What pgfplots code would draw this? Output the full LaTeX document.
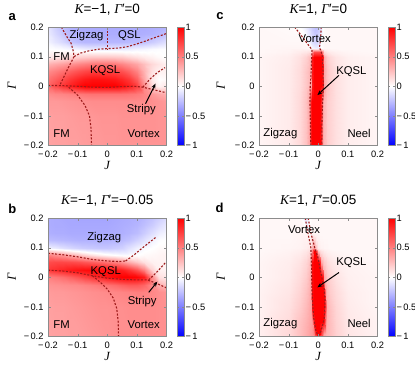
\documentclass[border=0pt]{standalone}
\usepackage{fontspec}
\setmainfont{Liberation Sans}
\newfontfamily\tms{Liberation Serif}
\usepackage{pgfplots}
\pgfplotsset{compat=1.18}
\usetikzlibrary{arrows.meta}
\definecolor{bnd}{HTML}{9E1B1B}
\definecolor{frm}{HTML}{8C8C8C}
\newcommand{\vK}{{\tms\itshape K}}
\newcommand{\vG}{{\tms\itshape Γ}}
\newcommand{\vJ}{{\tms\itshape J}}
\newcommand{\mn}{−\kern1.2pt}
\newcommand{\tck}{\fontsize{9.3}{10}\selectfont}
\newcommand{\lab}{\fontsize{11.3}{12}\selectfont}
\pgfplotsset{
  panel/.style={
    scale only axis, width=118.5pt, height=118.5pt,
    anchor=north west,
    xmin=-0.2, xmax=0.2, ymin=-0.2, ymax=0.2,
    axis on top,
    colormap={bwr}{rgb255=(0,0,255) rgb255=(255,255,255) rgb255=(255,0,0)},
    point meta min=-1, point meta max=1,
    colorbar,
    colorbar style={at={(parent axis.north east)}, anchor=north west, xshift=2pt,
      width=7pt, height=118.5pt, scale only axis,
      ytick={-1,-0.5,0,0.5,1}, yticklabels={\mn1,\mn0.5,0,0.5,1},
      yticklabel style={font=\tck, inner sep=0.5pt, xshift=1pt}, major tick length=2pt,
      tick style={frm}, axis line style={frm}},
    xtick={-0.2,-0.1,0,0.1,0.2}, xticklabels={\mn0.2,\mn0.1,0,0.1,0.2},
    ytick={-0.2,-0.1,0,0.1,0.2}, yticklabels={\mn0.2,\mn0.1,0,0.1,0.2},
    tick label style={font=\tck},
    xticklabel style={yshift=-2pt},
    yticklabel style={xshift=-1pt},
    major tick length=3pt, tick style={frm}, axis line style={frm},
    title style={at={(axis description cs:0.5,1.063)}, anchor=base, font=\fontsize{13.5}{14}\selectfont},
  },
  bline/.style={color=bnd, line width=1.1pt, dash pattern=on 2pt off 1.6pt, no markers},
  heat/.style={surf, shader=interp, point meta=explicit},
}
\begin{document}
\begin{tikzpicture}
\path[use as bounding box] (0pt,0pt) rectangle (415pt,-375pt);

% ---------------- a ----------------
\begin{axis}[panel, at={(48pt,-27pt)}, title={\vK=−1, \vG′=0}]
\addplot[heat, mesh/cols=17] table[meta=c, row sep=\\] {
x y c\\
-0.2 -0.2 0.36\\ -0.175 -0.2 0.37\\ -0.15 -0.2 0.37\\ -0.125 -0.2 0.38\\ -0.1 -0.2 0.38\\ -0.075 -0.2 0.39\\ -0.05 -0.2 0.40\\ -0.025 -0.2 0.40\\ 0 -0.2 0.41\\ 0.025 -0.2 0.41\\ 0.05 -0.2 0.42\\ 0.075 -0.2 0.42\\ 0.1 -0.2 0.42\\ 0.125 -0.2 0.42\\ 0.15 -0.2 0.42\\ 0.175 -0.2 0.42\\ 0.2 -0.2 0.42\\
-0.2 -0.1 0.37\\ -0.175 -0.1 0.38\\ -0.15 -0.1 0.38\\ -0.125 -0.1 0.39\\ -0.1 -0.1 0.40\\ -0.075 -0.1 0.40\\ -0.05 -0.1 0.41\\ -0.025 -0.1 0.42\\ 0 -0.1 0.42\\ 0.025 -0.1 0.42\\ 0.05 -0.1 0.43\\ 0.075 -0.1 0.43\\ 0.1 -0.1 0.43\\ 0.125 -0.1 0.43\\ 0.15 -0.1 0.43\\ 0.175 -0.1 0.42\\ 0.2 -0.1 0.42\\
-0.2 -0.05 0.40\\ -0.175 -0.05 0.40\\ -0.15 -0.05 0.41\\ -0.125 -0.05 0.42\\ -0.1 -0.05 0.43\\ -0.075 -0.05 0.44\\ -0.05 -0.05 0.45\\ -0.025 -0.05 0.45\\ 0 -0.05 0.45\\ 0.025 -0.05 0.45\\ 0.05 -0.05 0.45\\ 0.075 -0.05 0.45\\ 0.1 -0.05 0.45\\ 0.125 -0.05 0.45\\ 0.15 -0.05 0.44\\ 0.175 -0.05 0.42\\ 0.2 -0.05 0.40\\
-0.2 -0.025 0.45\\ -0.175 -0.025 0.47\\ -0.15 -0.025 0.48\\ -0.125 -0.025 0.50\\ -0.1 -0.025 0.52\\ -0.075 -0.025 0.54\\ -0.05 -0.025 0.55\\ -0.025 -0.025 0.55\\ 0 -0.025 0.55\\ 0.025 -0.025 0.55\\ 0.05 -0.025 0.55\\ 0.075 -0.025 0.54\\ 0.1 -0.025 0.52\\ 0.125 -0.025 0.48\\ 0.15 -0.025 0.40\\ 0.175 -0.025 0.35\\ 0.2 -0.025 0.32\\
-0.2 0 0.60\\ -0.175 0 0.70\\ -0.15 0 0.80\\ -0.125 0 0.88\\ -0.1 0 0.95\\ -0.075 0 1\\ -0.05 0 1\\ -0.025 0 1\\ 0 0 1\\ 0.025 0 1\\ 0.05 0 0.95\\ 0.075 0 0.88\\ 0.1 0 0.75\\ 0.125 0 0.45\\ 0.15 0 0.15\\ 0.175 0 0.05\\ 0.2 0 0.10\\
-0.2 0.025 0.55\\ -0.175 0.025 0.62\\ -0.15 0.025 0.70\\ -0.125 0.025 0.78\\ -0.1 0.025 0.85\\ -0.075 0.025 0.90\\ -0.05 0.025 0.93\\ -0.025 0.025 0.93\\ 0 0.025 0.92\\ 0.025 0.025 0.90\\ 0.05 0.025 0.85\\ 0.075 0.025 0.78\\ 0.1 0.025 0.62\\ 0.125 0.025 0.35\\ 0.15 0.025 0.08\\ 0.175 0.025 0.00\\ 0.2 0.025 0.02\\
-0.2 0.05 0.45\\ -0.175 0.05 0.50\\ -0.15 0.05 0.56\\ -0.125 0.05 0.62\\ -0.1 0.05 0.68\\ -0.075 0.05 0.72\\ -0.05 0.05 0.75\\ -0.025 0.05 0.75\\ 0 0.05 0.74\\ 0.025 0.05 0.72\\ 0.05 0.05 0.68\\ 0.075 0.05 0.60\\ 0.1 0.05 0.48\\ 0.125 0.05 0.30\\ 0.15 0.05 0.12\\ 0.175 0.05 0.05\\ 0.2 0.05 0.05\\
-0.2 0.075 0.30\\ -0.175 0.075 0.34\\ -0.15 0.075 0.38\\ -0.125 0.075 0.42\\ -0.1 0.075 0.47\\ -0.075 0.075 0.50\\ -0.05 0.075 0.53\\ -0.025 0.075 0.55\\ 0 0.075 0.55\\ 0.025 0.075 0.53\\ 0.05 0.075 0.48\\ 0.075 0.075 0.42\\ 0.1 0.075 0.35\\ 0.125 0.075 0.25\\ 0.15 0.075 0.15\\ 0.175 0.075 0.10\\ 0.2 0.075 0.06\\
-0.2 0.1 0.08\\ -0.175 0.1 0.10\\ -0.15 0.1 0.12\\ -0.125 0.1 0.15\\ -0.1 0.1 0.18\\ -0.075 0.1 0.20\\ -0.05 0.1 0.22\\ -0.025 0.1 0.22\\ 0 0.1 0.22\\ 0.025 0.1 0.21\\ 0.05 0.1 0.20\\ 0.075 0.1 0.16\\ 0.1 0.1 0.12\\ 0.125 0.1 0.08\\ 0.15 0.1 0.05\\ 0.175 0.1 0.02\\ 0.2 0.1 0.00\\
-0.2 0.125 0.00\\ -0.175 0.125 -0.01\\ -0.15 0.125 -0.02\\ -0.125 0.125 -0.04\\ -0.1 0.125 -0.05\\ -0.075 0.125 -0.07\\ -0.05 0.125 -0.08\\ -0.025 0.125 -0.08\\ 0 0.125 -0.08\\ 0.025 0.125 -0.08\\ 0.05 0.125 -0.08\\ 0.075 0.125 -0.07\\ 0.1 0.125 -0.05\\ 0.125 0.125 -0.04\\ 0.15 0.125 -0.02\\ 0.175 0.125 -0.01\\ 0.2 0.125 0.00\\
-0.2 0.15 -0.05\\ -0.175 0.15 -0.10\\ -0.15 0.15 -0.15\\ -0.125 0.15 -0.22\\ -0.1 0.15 -0.26\\ -0.075 0.15 -0.28\\ -0.05 0.15 -0.28\\ -0.025 0.15 -0.28\\ 0 0.15 -0.28\\ 0.025 0.15 -0.28\\ 0.05 0.15 -0.28\\ 0.075 0.15 -0.27\\ 0.1 0.15 -0.26\\ 0.125 0.15 -0.24\\ 0.15 0.15 -0.20\\ 0.175 0.15 -0.16\\ 0.2 0.15 -0.12\\
-0.2 0.175 -0.08\\ -0.175 0.175 -0.15\\ -0.15 0.175 -0.22\\ -0.125 0.175 -0.28\\ -0.1 0.175 -0.31\\ -0.075 0.175 -0.32\\ -0.05 0.175 -0.32\\ -0.025 0.175 -0.32\\ 0 0.175 -0.32\\ 0.025 0.175 -0.32\\ 0.05 0.175 -0.32\\ 0.075 0.175 -0.32\\ 0.1 0.175 -0.32\\ 0.125 0.175 -0.31\\ 0.15 0.175 -0.30\\ 0.175 0.175 -0.28\\ 0.2 0.175 -0.25\\
-0.2 0.2 -0.10\\ -0.175 0.2 -0.18\\ -0.15 0.2 -0.25\\ -0.125 0.2 -0.30\\ -0.1 0.2 -0.32\\ -0.075 0.2 -0.33\\ -0.05 0.2 -0.33\\ -0.025 0.2 -0.33\\ 0 0.2 -0.33\\ 0.025 0.2 -0.33\\ 0.05 0.2 -0.33\\ 0.075 0.2 -0.33\\ 0.1 0.2 -0.33\\ 0.125 0.2 -0.33\\ 0.15 0.2 -0.32\\ 0.175 0.2 -0.31\\ 0.2 0.2 -0.30\\
};
\addplot[bline] coordinates {(-0.155,0.2) (-0.138,0.17) (-0.122,0.145) (-0.115,0.12) (-0.112,0.1)};
\addplot[bline] coordinates {(-0.112,0.1) (-0.09,0.112) (-0.06,0.12) (-0.03,0.125) (0,0.127) (0.04,0.129) (0.07,0.134) (0.1,0.143) (0.13,0.153) (0.16,0.164) (0.2,0.178)};
\addplot[bline] coordinates {(0,0.2) (0,0.127)};
\addplot[bline] coordinates {(-0.112,0.1) (-0.125,0.075) (-0.14,0.045) (-0.152,0.02) (-0.16,0.003)};
\addplot[bline] coordinates {(-0.2,0.003) (-0.15,0.002) (-0.1,0.0) (-0.05,-0.003) (0,-0.004) (0.05,-0.001) (0.09,0.0) (0.12,-0.003) (0.14,-0.008) (0.17,-0.015) (0.2,-0.022)};
\addplot[bline] coordinates {(0.12,-0.003) (0.145,0.025) (0.17,0.047) (0.195,0.063)};
\addplot[bline] coordinates {(-0.13,-0.003) (-0.1,-0.03) (-0.075,-0.065) (-0.06,-0.1) (-0.055,-0.14) (-0.053,-0.2)};
\node[font=\lab] at (axis cs:-0.07,0.171) {Zigzag};
\node[font=\lab] at (axis cs:0.075,0.171) {QSL};
\node[font=\lab] at (axis cs:-0.154,0.1) {FM};
\node[font=\lab] at (axis cs:-0.007,0.052) {KQSL};
\node[font=\lab] at (axis cs:0.115,-0.079) {Stripy};
\node[font=\lab] at (axis cs:-0.154,-0.16) {FM};
\node[font=\lab] at (axis cs:0.123,-0.16) {Vortex};
\draw[-{Stealth[length=5pt,width=4pt]}, line width=1pt] (axis cs:0.129,-0.059) -- (axis cs:0.163,0.009);
\end{axis}

% ---------------- b ----------------
\begin{axis}[panel, at={(48pt,-218pt)}, title={\vK=−1, \vG′=−0.05}]
\addplot[heat, mesh/cols=17] table[meta=c, row sep=\\] {
x y c\\
-0.2 -0.2 0.36\\ -0.175 -0.2 0.37\\ -0.15 -0.2 0.37\\ -0.125 -0.2 0.38\\ -0.1 -0.2 0.38\\ -0.075 -0.2 0.39\\ -0.05 -0.2 0.40\\ -0.025 -0.2 0.41\\ 0 -0.2 0.42\\ 0.025 -0.2 0.43\\ 0.05 -0.2 0.44\\ 0.075 -0.2 0.44\\ 0.1 -0.2 0.44\\ 0.125 -0.2 0.44\\ 0.15 -0.2 0.44\\ 0.175 -0.2 0.44\\ 0.2 -0.2 0.44\\
-0.2 -0.1 0.37\\ -0.175 -0.1 0.38\\ -0.15 -0.1 0.38\\ -0.125 -0.1 0.39\\ -0.1 -0.1 0.40\\ -0.075 -0.1 0.41\\ -0.05 -0.1 0.42\\ -0.025 -0.1 0.43\\ 0 -0.1 0.43\\ 0.025 -0.1 0.44\\ 0.05 -0.1 0.44\\ 0.075 -0.1 0.45\\ 0.1 -0.1 0.45\\ 0.125 -0.1 0.45\\ 0.15 -0.1 0.45\\ 0.175 -0.1 0.44\\ 0.2 -0.1 0.43\\
-0.2 -0.05 0.39\\ -0.175 -0.05 0.40\\ -0.15 -0.05 0.40\\ -0.125 -0.05 0.41\\ -0.1 -0.05 0.42\\ -0.075 -0.05 0.43\\ -0.05 -0.05 0.44\\ -0.025 -0.05 0.45\\ 0 -0.05 0.46\\ 0.025 -0.05 0.47\\ 0.05 -0.05 0.48\\ 0.075 -0.05 0.49\\ 0.1 -0.05 0.50\\ 0.125 -0.05 0.49\\ 0.15 -0.05 0.47\\ 0.175 -0.05 0.44\\ 0.2 -0.05 0.42\\
-0.2 -0.025 0.42\\ -0.175 -0.025 0.43\\ -0.15 -0.025 0.44\\ -0.125 -0.025 0.45\\ -0.1 -0.025 0.46\\ -0.075 -0.025 0.48\\ -0.05 -0.025 0.50\\ -0.025 -0.025 0.53\\ 0 -0.025 0.55\\ 0.025 -0.025 0.58\\ 0.05 -0.025 0.62\\ 0.075 -0.025 0.65\\ 0.1 -0.025 0.65\\ 0.125 -0.025 0.60\\ 0.15 -0.025 0.45\\ 0.175 -0.025 0.32\\ 0.2 -0.025 0.25\\
-0.2 0 0.50\\ -0.175 0 0.53\\ -0.15 0 0.57\\ -0.125 0 0.62\\ -0.1 0 0.68\\ -0.075 0 0.74\\ -0.05 0 0.80\\ -0.025 0 0.86\\ 0 0 0.92\\ 0.025 0 0.97\\ 0.05 0 1\\ 0.075 0 1\\ 0.1 0 0.98\\ 0.125 0 0.90\\ 0.15 0 0.45\\ 0.175 0 0.12\\ 0.2 0 0.10\\
-0.2 0.025 0.78\\ -0.175 0.025 0.82\\ -0.15 0.025 0.86\\ -0.125 0.025 0.90\\ -0.1 0.025 0.93\\ -0.075 0.025 0.95\\ -0.05 0.025 0.96\\ -0.025 0.025 0.96\\ 0 0.025 0.95\\ 0.025 0.025 0.92\\ 0.05 0.025 0.88\\ 0.075 0.025 0.80\\ 0.1 0.025 0.68\\ 0.125 0.025 0.50\\ 0.15 0.025 0.18\\ 0.175 0.025 0.06\\ 0.2 0.025 0.05\\
-0.2 0.05 0.70\\ -0.175 0.05 0.72\\ -0.15 0.05 0.72\\ -0.125 0.05 0.71\\ -0.1 0.05 0.69\\ -0.075 0.05 0.66\\ -0.05 0.05 0.63\\ -0.025 0.05 0.59\\ 0 0.05 0.55\\ 0.025 0.05 0.50\\ 0.05 0.05 0.42\\ 0.075 0.05 0.32\\ 0.1 0.05 0.22\\ 0.125 0.05 0.12\\ 0.15 0.05 0.06\\ 0.175 0.05 0.05\\ 0.2 0.05 0.05\\
-0.2 0.075 0.50\\ -0.175 0.075 0.45\\ -0.15 0.075 0.40\\ -0.125 0.075 0.32\\ -0.1 0.075 0.25\\ -0.075 0.075 0.18\\ -0.05 0.075 0.12\\ -0.025 0.075 0.07\\ 0 0.075 0.03\\ 0.025 0.075 0.00\\ 0.05 0.075 -0.02\\ 0.075 0.075 -0.02\\ 0.1 0.075 0.00\\ 0.125 0.075 0.02\\ 0.15 0.075 0.03\\ 0.175 0.075 0.04\\ 0.2 0.075 0.05\\
-0.2 0.1 -0.05\\ -0.175 0.1 -0.08\\ -0.15 0.1 -0.12\\ -0.125 0.1 -0.15\\ -0.1 0.1 -0.18\\ -0.075 0.1 -0.20\\ -0.05 0.1 -0.21\\ -0.025 0.1 -0.22\\ 0 0.1 -0.22\\ 0.025 0.1 -0.20\\ 0.05 0.1 -0.18\\ 0.075 0.1 -0.12\\ 0.1 0.1 -0.06\\ 0.125 0.1 -0.02\\ 0.15 0.1 0.00\\ 0.175 0.1 0.02\\ 0.2 0.1 0.02\\
-0.2 0.125 -0.26\\ -0.175 0.125 -0.27\\ -0.15 0.125 -0.28\\ -0.125 0.125 -0.29\\ -0.1 0.125 -0.30\\ -0.075 0.125 -0.30\\ -0.05 0.125 -0.30\\ -0.025 0.125 -0.30\\ 0 0.125 -0.30\\ 0.025 0.125 -0.29\\ 0.05 0.125 -0.27\\ 0.075 0.125 -0.24\\ 0.1 0.125 -0.18\\ 0.125 0.125 -0.12\\ 0.15 0.125 -0.05\\ 0.175 0.125 -0.01\\ 0.2 0.125 0.00\\
-0.2 0.15 -0.31\\ -0.175 0.15 -0.32\\ -0.15 0.15 -0.32\\ -0.125 0.15 -0.33\\ -0.1 0.15 -0.33\\ -0.075 0.15 -0.33\\ -0.05 0.15 -0.33\\ -0.025 0.15 -0.33\\ 0 0.15 -0.33\\ 0.025 0.15 -0.32\\ 0.05 0.15 -0.31\\ 0.075 0.15 -0.29\\ 0.1 0.15 -0.26\\ 0.125 0.15 -0.20\\ 0.15 0.15 -0.13\\ 0.175 0.15 -0.07\\ 0.2 0.15 -0.04\\
-0.2 0.175 -0.32\\ -0.175 0.175 -0.33\\ -0.15 0.175 -0.33\\ -0.125 0.175 -0.34\\ -0.1 0.175 -0.34\\ -0.075 0.175 -0.34\\ -0.05 0.175 -0.34\\ -0.025 0.175 -0.34\\ 0 0.175 -0.34\\ 0.025 0.175 -0.33\\ 0.05 0.175 -0.32\\ 0.075 0.175 -0.31\\ 0.1 0.175 -0.29\\ 0.125 0.175 -0.25\\ 0.15 0.175 -0.20\\ 0.175 0.175 -0.14\\ 0.2 0.175 -0.09\\
-0.2 0.2 -0.32\\ -0.175 0.2 -0.33\\ -0.15 0.2 -0.34\\ -0.125 0.2 -0.34\\ -0.1 0.2 -0.35\\ -0.075 0.2 -0.35\\ -0.05 0.2 -0.35\\ -0.025 0.2 -0.35\\ 0 0.2 -0.35\\ 0.025 0.2 -0.34\\ 0.05 0.2 -0.33\\ 0.075 0.2 -0.32\\ 0.1 0.2 -0.31\\ 0.125 0.2 -0.28\\ 0.15 0.2 -0.24\\ 0.175 0.2 -0.19\\ 0.2 0.2 -0.14\\
};
\addplot[bline] coordinates {(-0.2,0.081) (-0.15,0.076) (-0.1,0.069) (-0.05,0.06) (0,0.055) (0.04,0.053) (0.062,0.055)};
\addplot[bline] coordinates {(0.062,0.055) (0.09,0.075) (0.11,0.092) (0.135,0.112) (0.163,0.134)};
\addplot[bline] coordinates {(-0.2,0.024) (-0.15,0.021) (-0.1,0.015) (-0.05,0.005) (0,-0.003) (0.05,-0.007) (0.1,-0.009) (0.135,-0.009) (0.17,-0.022) (0.2,-0.036)};
\addplot[bline] coordinates {(0.14,-0.009) (0.17,0.02) (0.197,0.05)};
\addplot[bline] coordinates {(-0.05,0.005) (-0.02,-0.02) (0,-0.04) (0.02,-0.07) (0.032,-0.105) (0.037,-0.15) (0.038,-0.2)};
\node[font=\lab] at (axis cs:-0.01,0.135) {Zigzag};
\node[font=\lab] at (axis cs:-0.005,0.02) {KQSL};
\node[font=\lab] at (axis cs:0.118,-0.082) {Stripy};
\node[font=\lab] at (axis cs:-0.154,-0.16) {FM};
\node[font=\lab] at (axis cs:0.123,-0.16) {Vortex};
\draw[-{Stealth[length=5pt,width=4pt]}, line width=1pt] (axis cs:0.14,-0.051) -- (axis cs:0.169,-0.015);
\end{axis}

% ---------------- c ----------------
\begin{axis}[panel, at={(259pt,-27pt)}, title={\vK=1, \vG′=0}]
\addplot[heat, mesh/cols=21] table[meta=c, row sep=\\] {
x y c\\
-0.2 -0.2 0.04\\ -0.1 -0.2 0.08\\ -0.06 -0.2 0.15\\ -0.04 -0.2 0.24\\ -0.03 -0.2 0.35\\ -0.025 -0.2 0.9\\ -0.02 -0.2 1\\ -0.015 -0.2 1\\ -0.01 -0.2 1\\ -0.005 -0.2 1\\ 0 -0.2 1\\ 0.005 -0.2 1\\ 0.01 -0.2 0.9\\ 0.015 -0.2 0.35\\ 0.02 -0.2 0.28\\ 0.025 -0.2 0.24\\ 0.03 -0.2 0.2\\ 0.04 -0.2 0.17\\ 0.06 -0.2 0.12\\ 0.1 -0.2 0.07\\ 0.2 -0.2 0.04\\
-0.2 -0.15 0.04\\ -0.1 -0.15 0.08\\ -0.06 -0.15 0.15\\ -0.04 -0.15 0.24\\ -0.03 -0.15 0.35\\ -0.025 -0.15 0.9\\ -0.02 -0.15 1\\ -0.015 -0.15 1\\ -0.01 -0.15 1\\ -0.005 -0.15 1\\ 0 -0.15 1\\ 0.005 -0.15 1\\ 0.01 -0.15 0.9\\ 0.015 -0.15 0.35\\ 0.02 -0.15 0.28\\ 0.025 -0.15 0.24\\ 0.03 -0.15 0.2\\ 0.04 -0.15 0.17\\ 0.06 -0.15 0.12\\ 0.1 -0.15 0.07\\ 0.2 -0.15 0.04\\
-0.2 -0.1 0.04\\ -0.1 -0.1 0.08\\ -0.06 -0.1 0.15\\ -0.04 -0.1 0.24\\ -0.03 -0.1 0.35\\ -0.025 -0.1 0.9\\ -0.02 -0.1 1\\ -0.015 -0.1 1\\ -0.01 -0.1 1\\ -0.005 -0.1 1\\ 0 -0.1 1\\ 0.005 -0.1 1\\ 0.01 -0.1 0.9\\ 0.015 -0.1 0.35\\ 0.02 -0.1 0.28\\ 0.025 -0.1 0.24\\ 0.03 -0.1 0.2\\ 0.04 -0.1 0.17\\ 0.06 -0.1 0.12\\ 0.1 -0.1 0.07\\ 0.2 -0.1 0.04\\
-0.2 -0.05 0.04\\ -0.1 -0.05 0.08\\ -0.06 -0.05 0.15\\ -0.04 -0.05 0.24\\ -0.03 -0.05 0.35\\ -0.025 -0.05 0.9\\ -0.02 -0.05 1\\ -0.015 -0.05 1\\ -0.01 -0.05 1\\ -0.005 -0.05 1\\ 0 -0.05 1\\ 0.005 -0.05 1\\ 0.01 -0.05 0.9\\ 0.015 -0.05 0.35\\ 0.02 -0.05 0.28\\ 0.025 -0.05 0.24\\ 0.03 -0.05 0.2\\ 0.04 -0.05 0.17\\ 0.06 -0.05 0.12\\ 0.1 -0.05 0.07\\ 0.2 -0.05 0.04\\
-0.2 0 0.04\\ -0.1 0 0.08\\ -0.06 0 0.14\\ -0.04 0 0.22\\ -0.03 0 0.27\\ -0.025 0 0.35\\ -0.02 0 0.9\\ -0.015 0 1\\ -0.01 0 1\\ -0.005 0 1\\ 0 0 1\\ 0.005 0 1\\ 0.01 0 1\\ 0.015 0 0.9\\ 0.02 0 0.35\\ 0.025 0 0.28\\ 0.03 0 0.24\\ 0.04 0 0.18\\ 0.06 0 0.12\\ 0.1 0 0.07\\ 0.2 0 0.04\\
-0.2 0.05 0.04\\ -0.1 0.05 0.08\\ -0.06 0.05 0.14\\ -0.04 0.05 0.22\\ -0.03 0.05 0.27\\ -0.025 0.05 0.35\\ -0.02 0.05 0.9\\ -0.015 0.05 1\\ -0.01 0.05 1\\ -0.005 0.05 1\\ 0 0.05 1\\ 0.005 0.05 1\\ 0.01 0.05 1\\ 0.015 0.05 0.9\\ 0.02 0.05 0.35\\ 0.025 0.05 0.28\\ 0.03 0.05 0.24\\ 0.04 0.05 0.18\\ 0.06 0.05 0.12\\ 0.1 0.05 0.07\\ 0.2 0.05 0.04\\
-0.2 0.1 0.04\\ -0.1 0.1 0.07\\ -0.06 0.1 0.12\\ -0.04 0.1 0.18\\ -0.03 0.1 0.24\\ -0.025 0.1 0.32\\ -0.02 0.1 0.9\\ -0.015 0.1 1\\ -0.01 0.1 1\\ -0.005 0.1 1\\ 0 0.1 1\\ 0.005 0.1 1\\ 0.01 0.1 1\\ 0.015 0.1 0.9\\ 0.02 0.1 0.32\\ 0.025 0.1 0.24\\ 0.03 0.1 0.2\\ 0.04 0.1 0.15\\ 0.06 0.1 0.1\\ 0.1 0.1 0.06\\ 0.2 0.1 0.04\\
-0.2 0.115 0.03\\ -0.1 0.115 0.05\\ -0.06 0.115 0.08\\ -0.04 0.115 0.1\\ -0.03 0.115 0.12\\ -0.025 0.115 0.15\\ -0.02 0.115 0.4\\ -0.015 0.115 0.7\\ -0.01 0.115 0.7\\ -0.005 0.115 0.7\\ 0 0.115 0.7\\ 0.005 0.115 0.7\\ 0.01 0.115 0.7\\ 0.015 0.115 0.4\\ 0.02 0.115 0.15\\ 0.025 0.115 0.12\\ 0.03 0.115 0.1\\ 0.04 0.115 0.08\\ 0.06 0.115 0.06\\ 0.1 0.115 0.04\\ 0.2 0.115 0.03\\
-0.2 0.13 0.03\\ -0.1 0.13 0.04\\ -0.06 0.13 0.04\\ -0.04 0.13 0.03\\ -0.03 0.13 0.02\\ -0.025 0.13 0.0\\ -0.02 0.13 -0.03\\ -0.015 0.13 -0.05\\ -0.01 0.13 -0.06\\ -0.005 0.13 -0.06\\ 0 0.13 -0.05\\ 0.005 0.13 -0.03\\ 0.01 0.13 0.0\\ 0.015 0.13 0.02\\ 0.02 0.13 0.03\\ 0.025 0.13 0.03\\ 0.03 0.13 0.03\\ 0.04 0.13 0.03\\ 0.06 0.13 0.03\\ 0.1 0.13 0.03\\ 0.2 0.13 0.03\\
-0.2 0.15 0.03\\ -0.1 0.15 0.03\\ -0.06 0.15 0.03\\ -0.04 0.15 0.02\\ -0.03 0.15 -0.05\\ -0.025 0.15 -0.09\\ -0.02 0.15 -0.12\\ -0.015 0.15 -0.15\\ -0.01 0.15 -0.16\\ -0.005 0.15 -0.15\\ 0 0.15 -0.12\\ 0.005 0.15 -0.06\\ 0.01 0.15 0.0\\ 0.015 0.15 0.02\\ 0.02 0.15 0.03\\ 0.025 0.15 0.03\\ 0.03 0.15 0.03\\ 0.04 0.15 0.03\\ 0.06 0.15 0.03\\ 0.1 0.15 0.03\\ 0.2 0.15 0.03\\
-0.2 0.2 0.03\\ -0.1 0.2 0.02\\ -0.06 0.2 0.0\\ -0.04 0.2 -0.08\\ -0.03 0.2 -0.14\\ -0.025 0.2 -0.17\\ -0.02 0.2 -0.2\\ -0.015 0.2 -0.23\\ -0.01 0.2 -0.25\\ -0.005 0.2 -0.25\\ 0 0.2 -0.22\\ 0.005 0.2 -0.16\\ 0.01 0.2 -0.08\\ 0.015 0.2 0.0\\ 0.02 0.2 0.02\\ 0.025 0.2 0.03\\ 0.03 0.2 0.03\\ 0.04 0.2 0.03\\ 0.06 0.2 0.03\\ 0.1 0.2 0.03\\ 0.2 0.2 0.03\\
};
\addplot[bline] coordinates {(-0.08,0.2) (-0.06,0.175) (-0.045,0.155) (-0.03,0.135) (-0.021,0.123) (-0.022,0.1) (-0.024,0.05) (-0.027,0.0) (-0.028,-0.05) (-0.027,-0.1) (-0.026,-0.15) (-0.025,-0.2)};
\addplot[bline] coordinates {(0.01,0.2) (0.008,0.16) (0.004,0.13) (0.009,0.12) (0.014,0.1) (0.016,0.05) (0.017,0.0) (0.015,-0.05) (0.013,-0.1) (0.012,-0.15) (0.012,-0.2)};
\node[font=\lab] at (axis cs:-0.012,0.162) {Vortex};
\node[font=\lab] at (axis cs:0.112,0.05) {KQSL};
\node[font=\lab] at (axis cs:-0.128,-0.16) {Zigzag};
\node[font=\lab] at (axis cs:0.138,-0.16) {Neel};
\draw[-{Stealth[length=5pt,width=4pt]}, line width=1pt] (axis cs:0.07,0.037) -- (axis cs:-0.003,-0.03);
\end{axis}

% ---------------- d ----------------
\begin{axis}[panel, at={(259pt,-218pt)}, title={\vK=1, \vG′=0.05}]
\addplot[heat, mesh/cols=21] table[meta=c, row sep=\\] {
x y c\\
-0.2 -0.2 0.06\\ -0.1 -0.2 0.15\\ -0.06 -0.2 0.25\\ -0.04 -0.2 0.32\\ -0.03 -0.2 0.36\\ -0.025 -0.2 0.38\\ -0.02 -0.2 0.4\\ -0.015 -0.2 0.42\\ -0.01 -0.2 0.5\\ -0.005 -0.2 0.7\\ 0 -0.2 0.85\\ 0.005 -0.2 0.7\\ 0.01 -0.2 0.5\\ 0.015 -0.2 0.4\\ 0.02 -0.2 0.35\\ 0.025 -0.2 0.3\\ 0.03 -0.2 0.28\\ 0.04 -0.2 0.25\\ 0.06 -0.2 0.18\\ 0.1 -0.2 0.1\\ 0.2 -0.2 0.05\\
-0.2 -0.19 0.06\\ -0.1 -0.19 0.15\\ -0.06 -0.19 0.25\\ -0.04 -0.19 0.32\\ -0.03 -0.19 0.36\\ -0.025 -0.19 0.38\\ -0.02 -0.19 0.4\\ -0.015 -0.19 0.5\\ -0.01 -0.19 0.8\\ -0.005 -0.19 1\\ 0 -0.19 1\\ 0.005 -0.19 1\\ 0.01 -0.19 0.8\\ 0.015 -0.19 0.5\\ 0.02 -0.19 0.35\\ 0.025 -0.19 0.3\\ 0.03 -0.19 0.28\\ 0.04 -0.19 0.25\\ 0.06 -0.19 0.18\\ 0.1 -0.19 0.1\\ 0.2 -0.19 0.05\\
-0.2 -0.15 0.06\\ -0.1 -0.15 0.14\\ -0.06 -0.15 0.24\\ -0.04 -0.15 0.3\\ -0.03 -0.15 0.34\\ -0.025 -0.15 0.36\\ -0.02 -0.15 0.4\\ -0.015 -0.15 0.9\\ -0.01 -0.15 1\\ -0.005 -0.15 1\\ 0 -0.15 1\\ 0.005 -0.15 1\\ 0.01 -0.15 1\\ 0.015 -0.15 1\\ 0.02 -0.15 0.9\\ 0.025 -0.15 0.4\\ 0.03 -0.15 0.3\\ 0.04 -0.15 0.25\\ 0.06 -0.15 0.17\\ 0.1 -0.15 0.09\\ 0.2 -0.15 0.05\\
-0.2 -0.1 0.05\\ -0.1 -0.1 0.12\\ -0.06 -0.1 0.2\\ -0.04 -0.1 0.27\\ -0.03 -0.1 0.32\\ -0.025 -0.1 0.38\\ -0.02 -0.1 0.9\\ -0.015 -0.1 1\\ -0.01 -0.1 1\\ -0.005 -0.1 1\\ 0 -0.1 1\\ 0.005 -0.1 1\\ 0.01 -0.1 1\\ 0.015 -0.1 1\\ 0.02 -0.1 1\\ 0.025 -0.1 0.6\\ 0.03 -0.1 0.3\\ 0.04 -0.1 0.24\\ 0.06 -0.1 0.16\\ 0.1 -0.1 0.08\\ 0.2 -0.1 0.04\\
-0.2 -0.05 0.05\\ -0.1 -0.05 0.1\\ -0.06 -0.05 0.17\\ -0.04 -0.05 0.24\\ -0.03 -0.05 0.3\\ -0.025 -0.05 0.4\\ -0.02 -0.05 0.95\\ -0.015 -0.05 1\\ -0.01 -0.05 1\\ -0.005 -0.05 1\\ 0 -0.05 1\\ 0.005 -0.05 1\\ 0.01 -0.05 1\\ 0.015 -0.05 1\\ 0.02 -0.05 0.95\\ 0.025 -0.05 0.35\\ 0.03 -0.05 0.27\\ 0.04 -0.05 0.2\\ 0.06 -0.05 0.14\\ 0.1 -0.05 0.07\\ 0.2 -0.05 0.04\\
-0.2 0 0.04\\ -0.1 0 0.08\\ -0.06 0 0.14\\ -0.04 0 0.2\\ -0.03 0 0.27\\ -0.025 0 0.4\\ -0.02 0 0.95\\ -0.015 0 1\\ -0.01 0 1\\ -0.005 0 1\\ 0 0 1\\ 0.005 0 1\\ 0.01 0 1\\ 0.015 0 0.9\\ 0.02 0 0.35\\ 0.025 0 0.27\\ 0.03 0 0.22\\ 0.04 0 0.17\\ 0.06 0 0.11\\ 0.1 0 0.06\\ 0.2 0 0.04\\
-0.2 0.05 0.04\\ -0.1 0.05 0.07\\ -0.06 0.05 0.11\\ -0.04 0.05 0.16\\ -0.03 0.05 0.22\\ -0.025 0.05 0.4\\ -0.02 0.05 0.95\\ -0.015 0.05 1\\ -0.01 0.05 1\\ -0.005 0.05 1\\ 0 0.05 1\\ 0.005 0.05 0.85\\ 0.01 0.05 0.35\\ 0.015 0.05 0.25\\ 0.02 0.05 0.2\\ 0.025 0.05 0.17\\ 0.03 0.05 0.14\\ 0.04 0.05 0.11\\ 0.06 0.05 0.08\\ 0.1 0.05 0.05\\ 0.2 0.05 0.03\\
-0.2 0.09 0.03\\ -0.1 0.09 0.05\\ -0.06 0.09 0.07\\ -0.04 0.09 0.1\\ -0.03 0.09 0.13\\ -0.025 0.09 0.2\\ -0.02 0.09 0.5\\ -0.015 0.09 1\\ -0.01 0.09 1\\ -0.005 0.09 0.6\\ 0 0.09 0.25\\ 0.005 0.09 0.15\\ 0.01 0.09 0.12\\ 0.015 0.09 0.1\\ 0.02 0.09 0.08\\ 0.025 0.09 0.07\\ 0.03 0.09 0.06\\ 0.04 0.09 0.05\\ 0.06 0.09 0.04\\ 0.1 0.09 0.03\\ 0.2 0.09 0.03\\
-0.2 0.1 0.03\\ -0.1 0.1 0.04\\ -0.06 0.1 0.05\\ -0.04 0.1 0.07\\ -0.03 0.1 0.09\\ -0.025 0.1 0.15\\ -0.02 0.1 0.3\\ -0.015 0.1 0.4\\ -0.01 0.1 0.3\\ -0.005 0.1 0.15\\ 0 0.1 0.08\\ 0.005 0.1 0.06\\ 0.01 0.1 0.05\\ 0.015 0.1 0.05\\ 0.02 0.1 0.04\\ 0.025 0.1 0.04\\ 0.03 0.1 0.04\\ 0.04 0.1 0.03\\ 0.06 0.1 0.03\\ 0.1 0.1 0.03\\ 0.2 0.1 0.03\\
-0.2 0.15 0.03\\ -0.1 0.15 0.03\\ -0.06 0.15 0.04\\ -0.04 0.15 0.04\\ -0.03 0.15 0.0\\ -0.025 0.15 0.02\\ -0.02 0.15 0.04\\ -0.015 0.15 0.04\\ -0.01 0.15 0.04\\ -0.005 0.15 0.04\\ 0 0.15 0.04\\ 0.005 0.15 0.03\\ 0.01 0.15 0.03\\ 0.015 0.15 0.03\\ 0.02 0.15 0.03\\ 0.025 0.15 0.03\\ 0.03 0.15 0.03\\ 0.04 0.15 0.03\\ 0.06 0.15 0.03\\ 0.1 0.15 0.03\\ 0.2 0.15 0.03\\
-0.2 0.2 0.03\\ -0.1 0.2 0.03\\ -0.06 0.2 0.03\\ -0.04 0.2 -0.1\\ -0.03 0.2 0.0\\ -0.025 0.2 0.02\\ -0.02 0.2 0.03\\ -0.015 0.2 0.03\\ -0.01 0.2 0.03\\ -0.005 0.2 0.03\\ 0 0.2 0.03\\ 0.005 0.2 0.03\\ 0.01 0.2 0.03\\ 0.015 0.2 0.03\\ 0.02 0.2 0.03\\ 0.025 0.2 0.03\\ 0.03 0.2 0.03\\ 0.04 0.2 0.03\\ 0.06 0.2 0.03\\ 0.1 0.2 0.03\\ 0.2 0.2 0.03\\
};
\addplot[bline] coordinates {(-0.044,0.2) (-0.035,0.15) (-0.025,0.1) (-0.023,0.05) (-0.022,0.0) (-0.021,-0.05) (-0.018,-0.1) (-0.015,-0.14) (-0.008,-0.18) (0,-0.2)};
\addplot[bline] coordinates {(-0.034,0.2) (-0.025,0.15) (-0.012,0.1) (-0.002,0.07) (0.008,0.02) (0.02,-0.04) (0.023,-0.08) (0.02,-0.14) (0.01,-0.18) (0,-0.2)};
\node[font=\lab] at (axis cs:-0.048,0.162) {Vortex};
\node[font=\lab] at (axis cs:0.112,0.05) {KQSL};
\node[font=\lab] at (axis cs:-0.128,-0.157) {Zigzag};
\node[font=\lab] at (axis cs:0.138,-0.157) {Neel};
\draw[-{Stealth[length=5pt,width=4pt]}, line width=1pt] (axis cs:0.07,0.016) -- (axis cs:-0.003,-0.034);
\end{axis}

% axis labels and panel letters
\foreach \px in {107.25,318.25} {
  \node[font=\fontsize{12.5}{13}\selectfont, anchor=base] at (\px pt,-169pt) {\vJ};
  \node[font=\fontsize{12.5}{13}\selectfont, anchor=base] at (\px pt,-360pt) {\vJ};
}
\foreach \px in {11.7,220.7} {
  \node[font=\fontsize{12.5}{13}\selectfont, rotate=90] at (\px pt,-86.25pt) {\vG};
  \node[font=\fontsize{12.5}{13}\selectfont, rotate=90] at (\px pt,-277.25pt) {\vG};
}
\node[font=\bfseries\fontsize{13}{13}\selectfont, anchor=base] at (12.3pt,-20pt) {a};
\node[font=\bfseries\fontsize{13}{13}\selectfont, anchor=base] at (12.3pt,-213pt) {b};
\node[font=\bfseries\fontsize{13}{13}\selectfont, anchor=base] at (220pt,-19.5pt) {c};
\node[font=\bfseries\fontsize{13}{13}\selectfont, anchor=base] at (219.7pt,-212.5pt) {d};
\end{tikzpicture}
\end{document}
